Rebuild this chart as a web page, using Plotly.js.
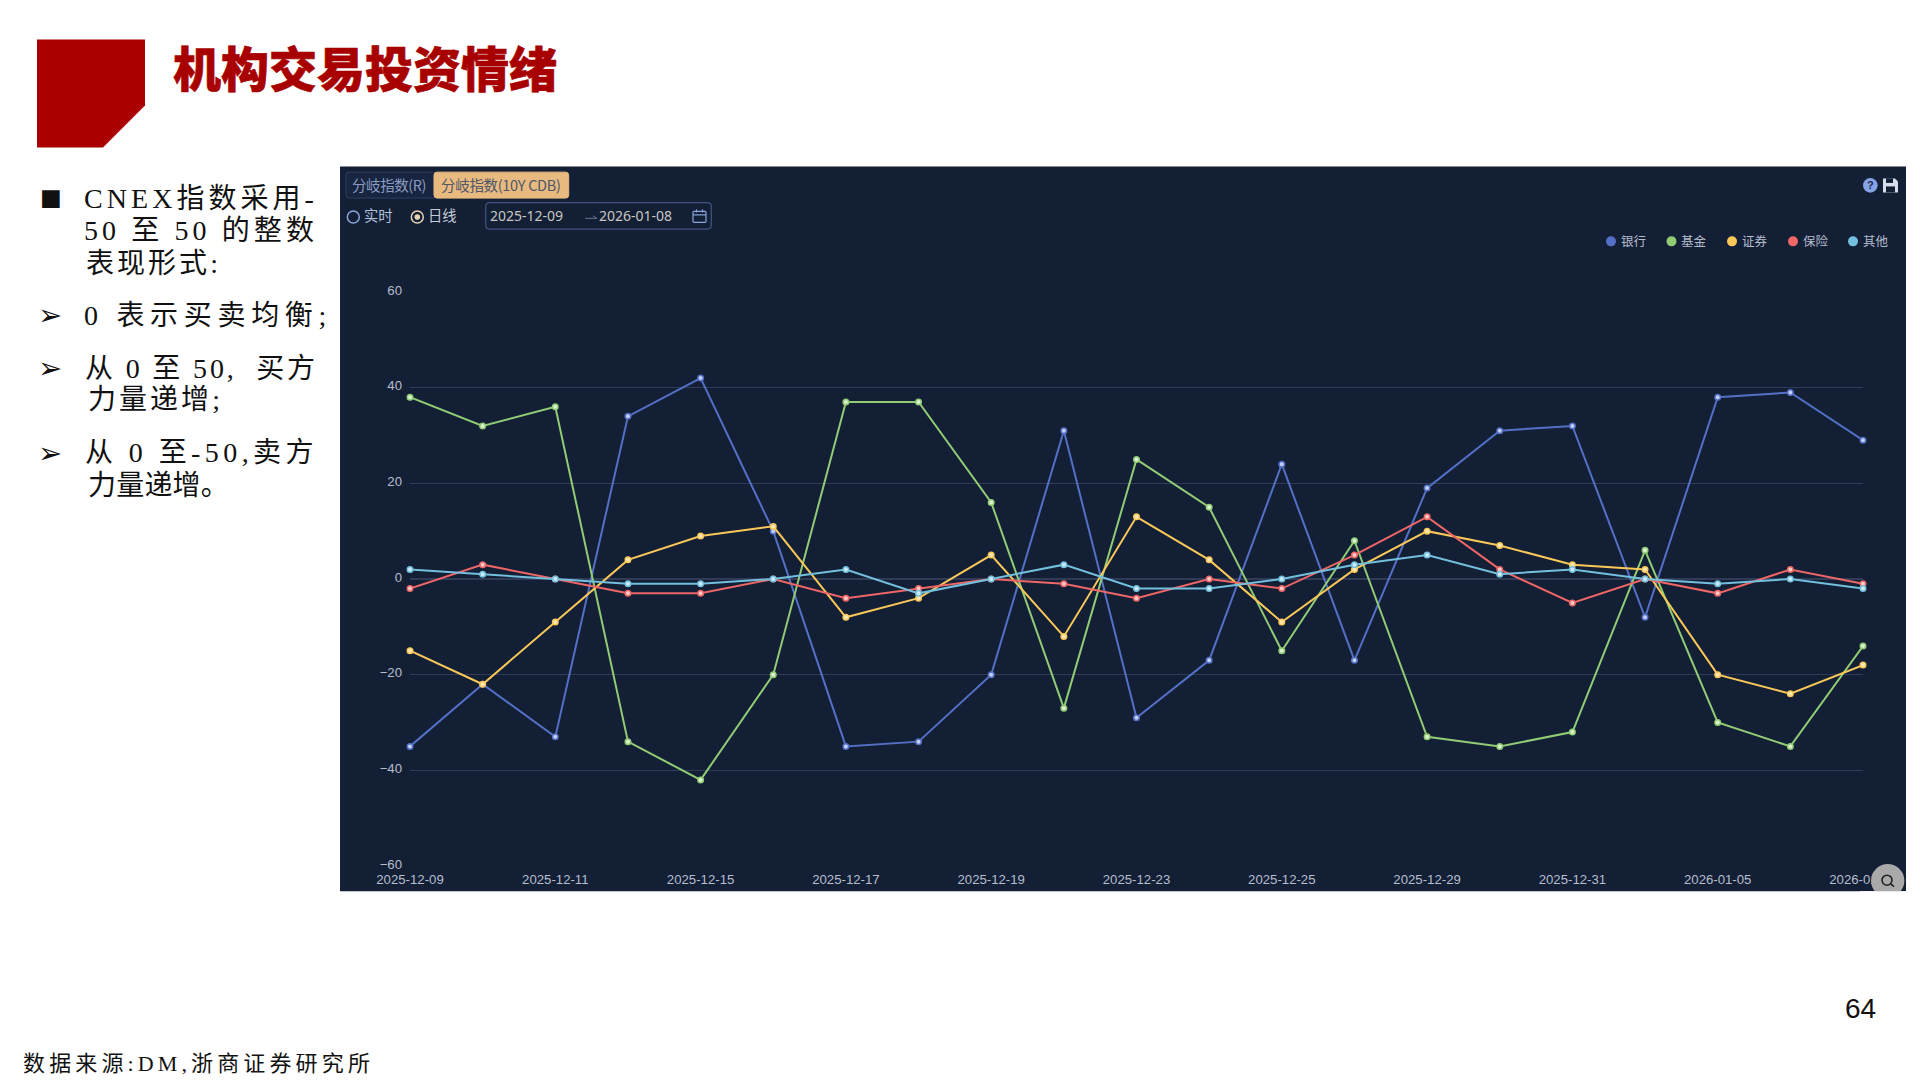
<!DOCTYPE html>
<html>
<head>
<meta charset="utf-8">
<script src="https://cdn.plot.ly/plotly-3.0.1.min.js"></script>
<style>html,body{margin:0;padding:0;background:#fff}#chart{width:1920px;height:1080px}</style>
</head>
<body>
<div id="chart"></div>
<script>
const dates = ['2025-12-09','2025-12-10','2025-12-11','2025-12-12','2025-12-15','2025-12-16','2025-12-17','2025-12-18','2025-12-19','2025-12-22','2025-12-23','2025-12-24','2025-12-25','2025-12-26','2025-12-29','2025-12-30','2025-12-31','2026-01-04','2026-01-05','2026-01-06','2026-01-07'];
const bank      = [-35,-22,-33,34,42,10,-35,-34,-20,31,-29,-17,24,-17,19,31,32,-8,38,39,29];
const fund      = [38,32,36,-34,-42,-20,37,37,16,-27,25,15,-15,8,-33,-35,-32,6,-30,-35,-14];
const broker    = [-15,-22,-9,4,9,11,-8,-4,5,-12,13,4,-9,2,10,7,3,2,-20,-24,-18];
const insurance = [-2,3,0,-3,-3,0,-4,-2,0,-1,-4,0,-2,5,13,2,-5,0,-3,2,-1];
const other     = [2,1,0,-1,-1,0,2,-3,0,3,-2,-2,0,3,5,1,2,0,-1,0,-2];
const seriesNames = ['银行','基金','证券','保险','其他'];
const seriesValues = [bank,fund,broker,insurance,other];
const seriesColors = ['#5470c6','#91cc75','#fac858','#ee6666','#73c0de'];
const markerCores  = ['#c4cff2','#dcf0cd','#fbe9b5','#f9c9c9','#cdeaf5'];
const yTicks = [-60,-40,-20,0,20,40,60];
const xTicks = dates.filter((d,i)=>i%2===0);

// plot area in page pixels
const L=410, R=1863, T=291.7, B=866.3;
const px = x => (x-L)/(R-L);
const py = y => (B-y)/(B-T);
const CJK = '"Noto Sans CJK SC","Noto Sans",sans-serif';
const SERIF = '"Liberation Serif","Noto Sans CJK SC",serif';

const traces = [];
seriesNames.forEach((n,i)=>{
  traces.push({type:'scatter',mode:'lines+markers',x:dates,y:seriesValues[i],name:n,showlegend:false,cliponaxis:false,
    line:{color:seriesColors[i],width:2},
    marker:{size:5.5,color:markerCores[i],line:{color:seriesColors[i],width:1.5}}});
});

const rect=(x0,y0,x1,y1,fill,line,w)=>({type:'rect',xref:'paper',yref:'paper',x0:px(x0),x1:px(x1),y0:py(y0),y1:py(y1),
  fillcolor:fill||'rgba(0,0,0,0)',line:{color:line||'rgba(0,0,0,0)',width:w||0},layer:'above'});
const circ=(cx,cy,r,fill,line,w)=>({type:'circle',xref:'paper',yref:'paper',x0:px(cx-r),x1:px(cx+r),y0:py(cy-r),y1:py(cy+r),
  fillcolor:fill||'rgba(0,0,0,0)',line:{color:line||'rgba(0,0,0,0)',width:w||0},layer:'above'});
const poly=(pts,fill,line,w,close=true)=>({type:'path',xref:'paper',yref:'paper',
  path:pts.map((p,i)=>(i?'L':'M')+px(p[0])+','+py(p[1])).join(' ')+(close?' Z':''),
  fillcolor:fill||'rgba(0,0,0,0)',line:{color:line||'rgba(0,0,0,0)',width:w||0},layer:'above'});
const rrect=(x0,y0,x1,y1,r,fill,line,w)=>{
  const P=(x,y)=>px(x)+','+py(y);
  return {type:'path',xref:'paper',yref:'paper',
    path:`M${P(x0+r,y0)} L${P(x1-r,y0)} Q${P(x1,y0)} ${P(x1,y0+r)} L${P(x1,y1-r)} Q${P(x1,y1)} ${P(x1-r,y1)} L${P(x0+r,y1)} Q${P(x0,y1)} ${P(x0,y1-r)} L${P(x0,y0+r)} Q${P(x0,y0)} ${P(x0+r,y0)} Z`,
    fillcolor:fill||'rgba(0,0,0,0)',line:{color:line||'rgba(0,0,0,0)',width:w||0},layer:'above'};
};

const panel = rect(340,166,1906,891.7,'#131f35'); panel.layer='below';
const shapes = [
  panel,
  poly([[37,39],[145,39],[145,105],[103,147],[37,147]],'#aa0000'),
  rrect(346,171.7,436,197.7,3,'#172541','#2f3f60',1),
  rrect(434,171.7,568.7,197.7,3,'#e8ba80','#e8ba80',1),
  circ(353.3,216.7,6,null,'#8aa4dc',1.5),
  circ(417.3,216.7,6,null,'#e6d3b0',1.5),
  circ(417.3,216.7,2.8,'#e6d3b0'),
  rrect(485.7,202.3,711.3,228.7,4,null,'#41567f',1.2),
  poly([[585,218],[597,218],[593,215.5]],null,'#66758f',1,false),
  rrect(693,211,706,222,1,null,'#8aa4dc',1.2),
  poly([[693,214.5],[706,214.5]],null,'#8aa4dc',1.2,false),
  poly([[696.5,209],[696.5,212]],null,'#8aa4dc',1.2,false),
  poly([[702.5,209],[702.5,212]],null,'#8aa4dc',1.2,false),
  circ(1870.3,185,7.3,'#85a3e6'),
  poly([[1883,178],[1895,178],[1898,181],[1898,192],[1883,192]],'#d7ddea'),
  rect(1886,178,1893,182.5,'#131f35'),
  rect(1886,186,1895,192,'#131f35'),
  circ(1887.7,881,16.7,'#a9a9a9'),
  circ(1887,880.5,5,null,'#222222',1.6),
  poly([[1890.6,884.2],[1894,887]],null,'#222222',1.6,false),
  rect(1860,891.7,1910,900,'#ffffff')
];

const note=(x,y,text,size,color,o={})=>Object.assign({xref:'paper',yref:'paper',x:px(x-1.5),y:py(y),text:text,showarrow:false,
  xanchor:'left',yanchor:'middle',align:'left',borderpad:0,captureevents:false,
  font:{size:size,color:color,family:CJK}},o);

const bodyLines = [
  [84.5,198,'CNEX指数采用-',234],
  [84.5,230,'50 至 50 的整数',234],
  [86,263,'表现形式:',135],
  [84.5,315,'0 表示买卖均衡;',248],
  [85.5,368,'从 0 至 50,  买方',233],
  [88,399.5,'力量递增;',135],
  [85.5,452.7,'从 0 至-50,卖方',233],
  [88,485,'力量递增。',141]
];
const fitted = [];
const annotations = [
  note(173,65,'机构交易投资情绪',48,'#a80000',{font:{size:48,color:'#a80000',family:CJK,weight:900}}),
  note(41,197,'■',23,'#111111',{font:{size:23,color:'#111111',family:'"DejaVu Sans"'}}),
  note(39,315,'➢',29,'#111111',{font:{size:29,color:'#111111',family:'"DejaVu Sans"'}}),
  note(39,368,'➢',29,'#111111',{font:{size:29,color:'#111111',family:'"DejaVu Sans"'}}),
  note(39,452.7,'➢',29,'#111111',{font:{size:29,color:'#111111',family:'"DejaVu Sans"'}}),
  note(352.7,184,'分岐指数(R)',14.5,'#8c9cc0'),
  note(441.7,184,'分岐指数(10Y CDB)',14.5,'#4e5668'),
  note(364,214.5,'实时',14.3,'#b4c0d8'),
  note(428.3,214.5,'日线',14.3,'#c4cad6'),
  note(490.7,215.5,'2025-12-09',14,'#c8c6c2',{font:{size:14,color:'#c8c6c2',family:'"Noto Sans"'}}),
  note(599,215.5,'2026-01-08',14,'#c8c6c2',{font:{size:14,color:'#c8c6c2',family:'"Noto Sans"'}}),
  note(1870.3,185,'?',11,'#1c2a4a',{x:px(1870.3),xanchor:'center',font:{size:11,color:'#1c2a4a',family:'"Liberation Sans"',weight:700}}),
  note(1845,1009,'64',28,'#111111',{font:{size:28,color:'#111111',family:'"Liberation Sans"'}}),
  note(23,1064,'数据来源:DM,浙商证券研究所',22,'#111111',{font:{size:22,color:'#111111',family:SERIF}})
];
fitted.push([5,74],[6,119.6],[13,351]);
const legendX = [1611,1671.5,1732,1793,1853];
seriesNames.forEach((n,i)=>{
  shapes.push(circ(legendX[i],241,5,seriesColors[i]));
  annotations.push(note(legendX[i]+10,239.8,n,12.5,'#b4bccb'));
});
bodyLines.forEach(l=>{
  fitted.push([annotations.length,l[3]]);
  annotations.push(note(l[0],l[1],l[2],28,'#111111',{font:{size:28,color:'#111111',family:SERIF}}));
});

const layout = {
  width:1920,height:1080,autosize:false,
  margin:{l:L,r:1920-R,t:T,b:1080-B,pad:0},
  paper_bgcolor:'#ffffff',plot_bgcolor:'rgba(0,0,0,0)',
  showlegend:false,
  hovermode:false,
  xaxis:{type:'category',categoryorder:'array',categoryarray:dates,range:[0,dates.length-1],
    tickmode:'array',tickvals:xTicks,ticktext:xTicks,showgrid:false,zeroline:false,showline:false,ticks:'',ticklen:0,
    ticklabelstandoff:4,tickangle:0,tickfont:{size:13.2,color:'#b6bdcd',family:'"Liberation Sans"'}},
  yaxis:{range:[-60,60],tickmode:'array',tickvals:yTicks,showgrid:true,gridcolor:'#303c57',gridwidth:1.2,
    zeroline:true,zerolinecolor:'#303c57',zerolinewidth:1.2,showline:false,ticks:'',ticklen:0,ticklabelstandoff:7,ticklabelshift:-2,
    tickfont:{size:13.2,color:'#b6bdcd',family:'"Liberation Sans"'}},
  shapes:shapes,annotations:annotations
};

Plotly.newPlot('chart',traces,layout,{displayModeBar:false,staticPlot:true,responsive:false}).then(()=>{
  fitted.forEach(([idx,target])=>{
    const g = document.querySelector('.annotation[data-index="'+idx+'"]');
    if(!g) return;
    const t = g.querySelector('text');
    const n = t.textContent.length;
    t.style.letterSpacing = ((target-t.getComputedTextLength())/n).toFixed(2)+'px';
  });
  const title = document.querySelector('.annotation[data-index="0"] text');
  if(title){ title.style.stroke='#a80000'; title.style.strokeWidth='0.6px'; }
});
</script>
</body>
</html>
